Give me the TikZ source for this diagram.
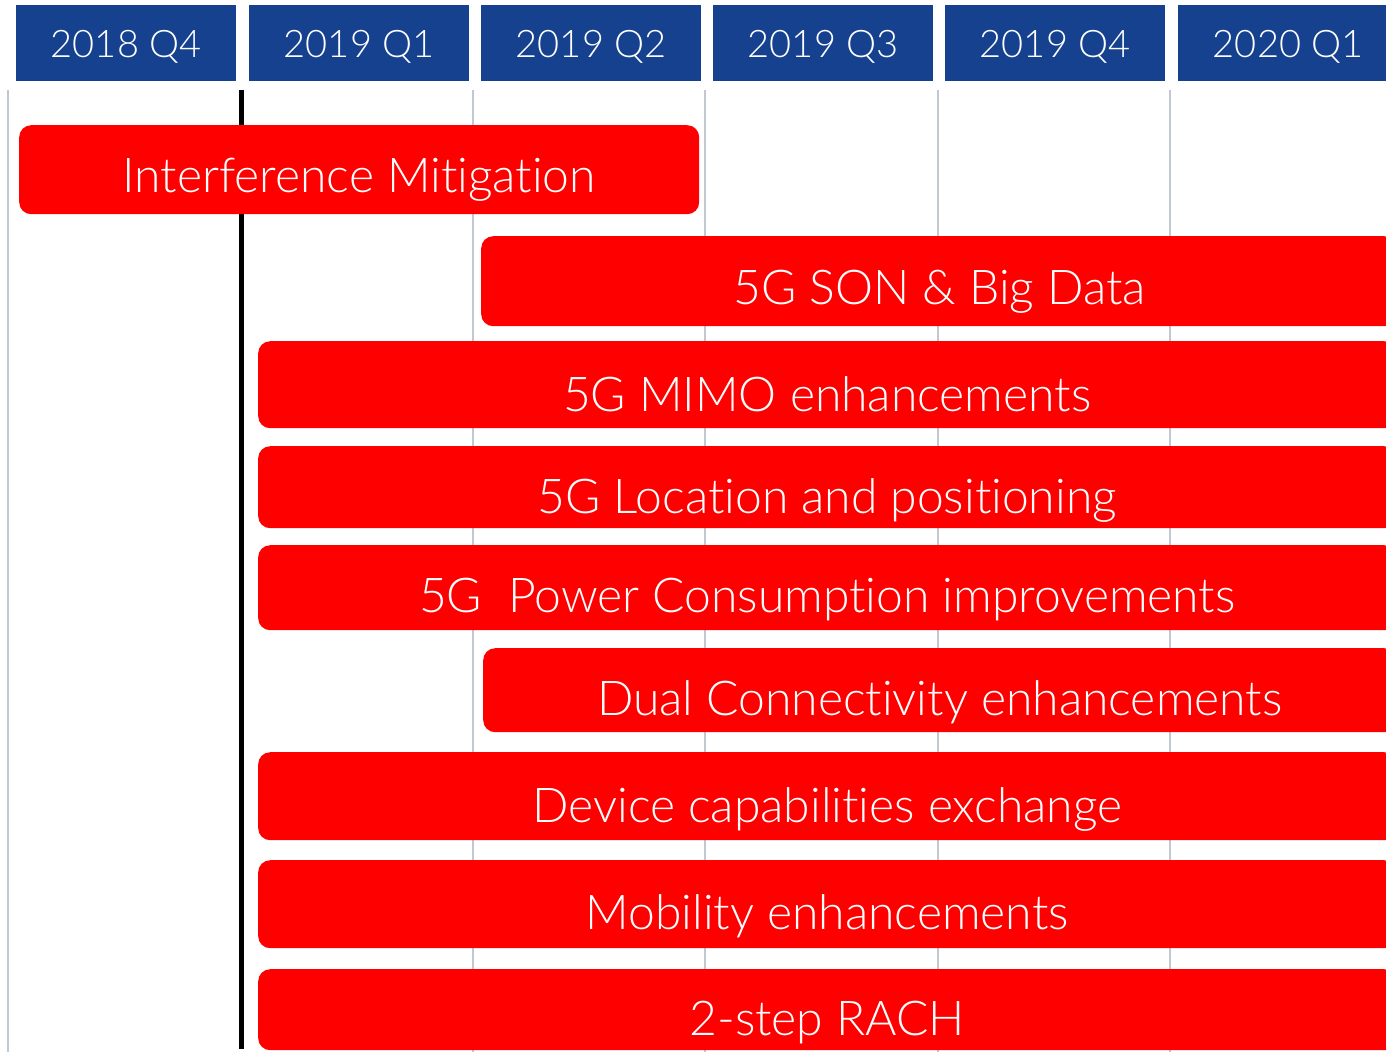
\documentclass[tikz,border=0pt]{standalone}
\usepackage{fontspec}
\setmainfont{Lato}[UprightFont=* Light,Ligatures=NoCommon]
\definecolor{hdrblue}{RGB}{21,65,143}
\definecolor{gridgray}{RGB}{192,200,210}
\definecolor{barred}{RGB}{254,0,0}
\newcommand{\lowtxt}[2]{\raisebox{-#1pt}[\height][\depth]{#2}}
\begin{document}
\begin{tikzpicture}[x=1pt,y=-1pt,
  hdr/.style={fill=hdrblue,text=white,anchor=north west,inner sep=0pt,
    font=\fontsize{38}{38}\selectfont},
  bar/.style={fill=barred,text=white,anchor=north west,inner sep=0pt,
    rounded corners=12pt,font=\fontsize{48}{48}\selectfont},
  grid/.style={draw=gridgray,line width=1.5pt},
  nowline/.style={draw=black,line width=5pt}]
\useasboundingbox (0,0) rectangle (1386,1061);
% headers
\node[hdr,minimum width=220,minimum height=76] (h1) at (16,5) {\lowtxt{4}{2018 Q4}};
\node[hdr,minimum width=220,minimum height=76] (h2) at (249,5) {\lowtxt{4}{2019 Q1}};
\node[hdr,minimum width=220,minimum height=76] (h3) at (481,5) {\lowtxt{4}{2019 Q2}};
\node[hdr,minimum width=220,minimum height=76] (h4) at (713,5) {\lowtxt{4}{2019 Q3}};
\node[hdr,minimum width=220,minimum height=76] (h5) at (945,5) {\lowtxt{4}{2019 Q4}};
\node[hdr,minimum width=220,minimum height=76] (h6) at (1178,5) {\lowtxt{4}{2020 Q1}};
% grid lines
\coordinate (g0t) at (8,90);   \coordinate (g0b) at (8,1052);
\coordinate (g1t) at (473,90); \coordinate (g1b) at (473,1052);
\coordinate (g2t) at (705,90); \coordinate (g2b) at (705,1052);
\coordinate (g3t) at (938,90); \coordinate (g3b) at (938,1052);
\coordinate (g4t) at (1170,90);\coordinate (g4b) at (1170,1052);
\draw[grid] (g0t) -- (g0b);
\draw[grid] (g1t) -- (g1b);
\draw[grid] (g2t) -- (g2b);
\draw[grid] (g3t) -- (g3b);
\draw[grid] (g4t) -- (g4b);
\coordinate (nt) at (241,90); \coordinate (nb) at (241,1049);
\draw[nowline] (nt) -- (nb);
% bars
\node[bar,minimum width=680,minimum height=89] (b1) at (19,125) {\lowtxt{10}{Interference Mitigation}};
\node[bar,minimum width=915,minimum height=90] (b2) at (481,236) {\lowtxt{11}{\hspace*{2pt}5G SON \& Big Data}};
\node[bar,minimum width=1138,minimum height=87] (b3) at (258,341) {\lowtxt{10}{\hspace*{0pt}5G MIMO enhancements}};
\node[bar,minimum width=1138,minimum height=82] (b4) at (258,446) {\lowtxt{13}{5G Location and positioning}};
\node[bar,minimum width=1138,minimum height=85] (b5) at (258,545) {\lowtxt{12}{5G\ \ Power Consumption improvements}};
\node[bar,minimum width=913,minimum height=84] (b6) at (483,648) {\lowtxt{12}{Dual Connectivity enhancements}};
\node[bar,minimum width=1138,minimum height=88] (b7) at (258,752) {\lowtxt{13}{Device capabilities exchange}};
\node[bar,minimum width=1138,minimum height=88] (b8) at (258,860) {\lowtxt{12}{Mobility enhancements}};
\node[bar,minimum width=1138,minimum height=81] (b9) at (258,969) {\lowtxt{13}{2-step RACH}};
\end{tikzpicture}
\end{document}
